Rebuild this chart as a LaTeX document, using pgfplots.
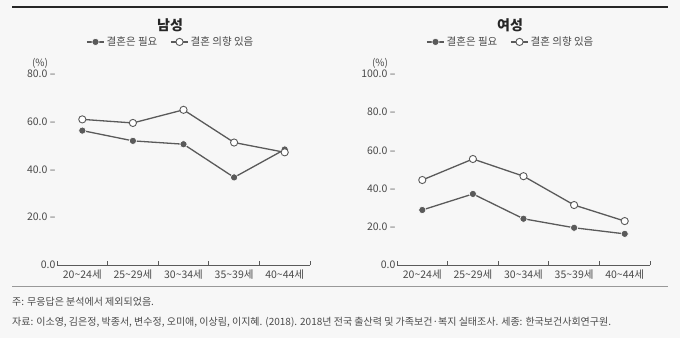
\documentclass[border=0pt]{standalone}
\usepackage{pgfplots}
\pgfplotsset{compat=1.18}
\usepackage{fontspec}
\setmainfont{Noto Sans CJK KR}
\definecolor{bgc}{HTML}{F7F7F7}
\definecolor{lc}{HTML}{5A5A5A}
\definecolor{tc}{HTML}{4A4A4A}
\pgfplotsset{
  mystyle/.style={
    scale only axis, width=253pt, height=191pt,
    xmin=-0.5, xmax=4.5, ymin=0,
    axis x line*=bottom, axis y line*=left,
    y axis line style={draw=none},
    x axis line style={draw=lc, line width=0.8pt, -},
    xtick={0,...,4},
    xticklabels={20\textasciitilde24세,25\textasciitilde29세,30\textasciitilde34세,35\textasciitilde39세,40\textasciitilde44세},
    minor xtick={-0.5,0.5,...,4.5},
    major tick length=0pt, minor tick length=4pt,
    tick align=inside,
    minor tick style={draw=lc, line width=0.8pt},
    tick label style={font=\fontsize{10.5}{12}\selectfont, text=tc},
    xticklabel style={yshift=-1pt},
    yticklabel style={xshift=2pt},
    /pgf/number format/assume math mode=true,
    clip=false,
    legend columns=2,
    legend style={draw=none, fill=none, at={(0.45,1.168)}, anchor=center,
      font=\fontsize{10.5}{12}\selectfont, text=tc,
      /tikz/every even column/.append style={column sep=11pt}},
    legend cell align=left,
  },
  s1/.style={draw=lc, line width=1.3pt, mark=*, mark size=3.6pt, mark options={fill=lc, draw=white, line width=0.6pt}},
  s2/.style={draw=lc, line width=1.3pt, mark=*, mark size=3.6pt, mark options={fill=white, draw=lc, line width=0.9pt}},
}
\begin{document}
\begin{tikzpicture}
\fill[bgc] (0pt,0pt) rectangle (680pt,338pt);
\draw[line width=1.6pt, black!85] (12pt,331pt) -- (668pt,331pt);
\draw[line width=0.7pt, black!40] (12pt,52pt) -- (668pt,52pt);

\begin{axis}[mystyle, at={(57pt,73pt)}, anchor=south west, ymax=80,
  ytick={0,20,40,60,80},
  yticklabels={0.0\hspace{5pt},20.0 –,40.0 –,60.0 –,80.0 –}]
\addplot[s1] coordinates {(0,56.3) (1,52.0) (2,50.6) (3,36.7) (4,48.4)};
\addlegendentry{결혼은 필요}
\addplot[s2] coordinates {(0,61.0) (1,59.5) (2,65.0) (3,51.3) (4,47.2)};
\addlegendentry{결혼 의향 있음}
\end{axis}
\node[font=\bfseries\fontsize{14}{16}\selectfont, text=black!85] at (170pt,313pt) {남성};
\node[font=\fontsize{10}{12}\selectfont, text=tc] at (40pt,275pt) {(\%)};

\begin{axis}[mystyle, at={(397pt,73pt)}, anchor=south west, ymax=100,
  ytick={0,20,40,60,80,100},
  yticklabels={0.0\hspace{5pt},20.0 –,40.0 –,60.0 –,80.0 –,100.0 –}]
\addplot[s1] coordinates {(0,28.8) (1,37.2) (2,24.2) (3,19.5) (4,16.3)};
\addlegendentry{결혼은 필요}
\addplot[s2] coordinates {(0,44.5) (1,55.5) (2,46.5) (3,31.4) (4,23.0)};
\addlegendentry{결혼 의향 있음}
\end{axis}
\node[font=\bfseries\fontsize{14}{16}\selectfont, text=black!85] at (510pt,313pt) {여성};
\node[font=\fontsize{10}{12}\selectfont, text=tc] at (380pt,275pt) {(\%)};

\node[anchor=west, font=\fontsize{10}{12}\selectfont, text=tc, inner sep=0pt] at (12pt,36pt) {주: 무응답은 분석에서 제외되었음.};
\node[anchor=west, font=\fontsize{10}{12}\selectfont, text=tc, inner sep=0pt] at (12pt,16pt) {자료: 이소영, 김은정, 박종서, 변수정, 오미애, 이상림, 이지혜. (2018). 2018년 전국 출산력 및 가족보건·복지 실태조사. 세종: 한국보건사회연구원.};
\end{tikzpicture}
\end{document}
